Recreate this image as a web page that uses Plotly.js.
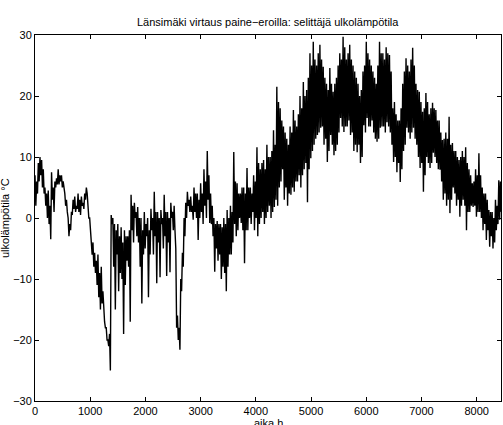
<!DOCTYPE html>
<html>
<head>
<meta charset="utf-8">
<script src="https://cdn.plot.ly/plotly-3.0.1.min.js"></script>
<style>html,body{margin:0;padding:0;background:#fff;}#chart{width:503px;height:425px;}</style>
</head>
<body>
<div id="chart"></div>
<script>
// Outdoor temperature: highs and lows (°C)
// per 30-hour block; block j starts at hour 30*j
const blockHours = 30;
const highs = [
  7,6, 9,10, 9.5,8, 5,4, 4.5,2, 7.5,5, 6,6.5, 8,7, 7,6, 4,3,
  0,-1, 1,3, 3.5,2, 4,3, 3.5,2.5, 4,5, 2,0, -3,-4, -5.7,-7, -6,-9,
  -8,-12, -17,-18, -20,-19, 0.5,0, -1,-2, -1,-3, -1.5,-4, -2,-3, -3,-2, 3.8,2,
  2.5,1, 1.8,0, 0,-2, 1,-1, 0,-2, 1.5,0, 4.3,1, 1,0, 1.3,0, 3.8,1,
  1,0, 2.5,1, 2,-5, -16,-18, -10,-5.7, 0,2.5, 4.3,3, 3.5,2, 5,4, 4,3,
  5.7,4, 8,6, 11,7, 4,2, 0,-1, -0.5,-1, -1,-1.5, 0,-1, 1.3,0, 2,1,
  10.8,6, 5.7,4, 4,5, 5,4, 8.2,5, 5,4, 7,6, 11.6,9, 8,9, 9.5,8,
  12,10, 10,11, 14.4,12, 21.5,19, 18,16, 15,14, 13,12, 15,14, 17.7,16, 15,17,
  20,18, 22.3,20, 21,23, 27,25, 28.9,26, 25,27, 28.4,26, 24.8,23, 22,21, 24.6,22,
  20.7,22, 23,25, 27,26, 29.7,28, 26,27, 28.4,26, 25,24, 23,22, 20,21, 24,25,
  28.9,27, 26,25, 24,23, 22,25, 28.9,27, 27,26, 28,27, 26.7,24, 18,19, 17,16,
  16,18, 22,24, 26.2,25, 24,26, 27.9,25, 22,21, 20.7,19, 17.4,18, 20.5,19, 17,18,
  18.9,18, 17.7,16, 16,14, 12.8,13, 14,13, 16.6,12, 12.3,11, 11,10, 9.5,10, 11,10,
  11.6,9, 8,7, 5.7,6, 8,7, 10.6,7, 5,4, 4,3, 1.3,1, 1,0, 3,2,
  6.2,6
];
const lows = [
  2,4, 6,7, 5,4, 2,0, -1,-3.5, 3,1, 5,5.5, 5.5,6, 5,5, 2,1,
  -3,-2, 0.5,1.5, 1,1.5, 1,0.5, 2,1.5, 3,4, 0,-2.5, -6,-8, -9,-11, -13,-15,
  -14,-16, -18,-20, -21,-25, -1,-8, -15,-6, -12,-9, -10,-19, -11,-7, -8,-17, -2,-4,
  0,-3, -4,-8, -14,-6, -5,-3, -13,-6, -2,-6, -3,-10.7, -4,-9.7, -1,-5, -3,-9.5,
  -4,-8.9, 0,-2, -2,-18, -20,-21.6, -12,-8, -3,0, 2,1, 1,-0.3, 1,0, -3.6,0,
  1,-1, 2,0, 3,-0.8, -1,-3, -8.8,-5, -7,-6, -10,-8, -9,-12, -8,-6, -6,-4,
  -1,-3, -2,0, -0.8,-2, -7.4,-2, -2,0, -1,1, -2,0, -3,-1, 0,1, -1,0,
  1,2, 0,1, 1.8,3, 2,5, 6,8, 3,5, 2,4, 3.8,5, 4.3,6, 6,7,
  5,7, 8,9, 2.6,8, 9.8,11, 12,13, 13.6,14, 14.8,15, 12,13, 9.2,11, 13.6,12,
  10.3,11, 12,14, 16.4,15, 14.1,15, 15,16, 13.6,14, 11,12, 10.8,12, 9,10, 15.2,14,
  16.4,15, 15,16, 14,13, 12.5,13, 14.8,15, 15,14, 15.7,15, 14,12, 9.2,10, 7.5,9,
  5.9,8, 11,12, 14.8,14, 13,14, 14.8,13, 12,10, 8.2,9, 4.3,7, 10,9, 8.2,9,
  10.7,10, 9,8, 7.9,6, 3,4, 2,3, 0.8,3, 5,4, 2,3, 0.2,2, 3,2,
  -2,1, 1,2, 1.8,2, 0.2,1, 1,0, -2,-1, -3.6,-2, -4.7,-3, -5,-4, -2,-1,
  -0.3,1
];
const xTicks = [0, 1000, 2000, 3000, 4000, 5000, 6000, 7000, 8000];
const yTicks = [-30, -20, -10, 0, 10, 20, 30];
const xMax = 8440;

// zigzag: high at block start, low half a block later
const hours = [], temps = [];
for (let j = 0; j < highs.length; j++) {
  hours.push(j * blockHours); temps.push(highs[j]);
  hours.push(j * blockHours + blockHours / 2); temps.push(lows[j]);
}

const font = {family: 'Liberation Sans, Arial, sans-serif', size: 11, color: '#000'};
const axisCommon = {
  showgrid: false, zeroline: false, showline: true, linecolor: '#000', linewidth: 1,
  mirror: 'ticks', ticks: 'inside', ticklen: 4, tickcolor: '#000', tickwidth: 1,
  tickfont: font, fixedrange: true
};

Plotly.newPlot('chart', [{
  x: hours, y: temps, type: 'scatter', mode: 'lines',
  line: {color: '#000', width: 1.4}, hoverinfo: 'skip'
}], {
  width: 503, height: 425,
  margin: {l: 35, r: 2, t: 35, b: 24, pad: 0},
  paper_bgcolor: '#fff', plot_bgcolor: '#fff',
  showlegend: false,
  xaxis: Object.assign({}, axisCommon, {range: [0, xMax], tickvals: xTicks, ticktext: xTicks.map(String)}),
  yaxis: Object.assign({}, axisCommon, {range: [-30, 30], tickvals: yTicks}),
  annotations: [
    {text: 'Länsimäki virtaus paine−eroilla: selittäjä ulkolämpötila', xref: 'paper', yref: 'paper',
     x: 0.5, y: 1, yshift: 5, showarrow: false, font: font, xanchor: 'center', yanchor: 'bottom'},
    {text: 'aika h', xref: 'paper', yref: 'paper', x: 0.5, y: 0, yshift: -14,
     showarrow: false, font: font, xanchor: 'center', yanchor: 'top'},
    {text: 'ulkolämpötila °C', xref: 'paper', yref: 'paper', x: 0, y: 0.5, xshift: -30,
     showarrow: false, font: font, textangle: -90, xanchor: 'center', yanchor: 'middle'}
  ]
}, {staticPlot: true, displayModeBar: false});
</script>
</body>
</html>
